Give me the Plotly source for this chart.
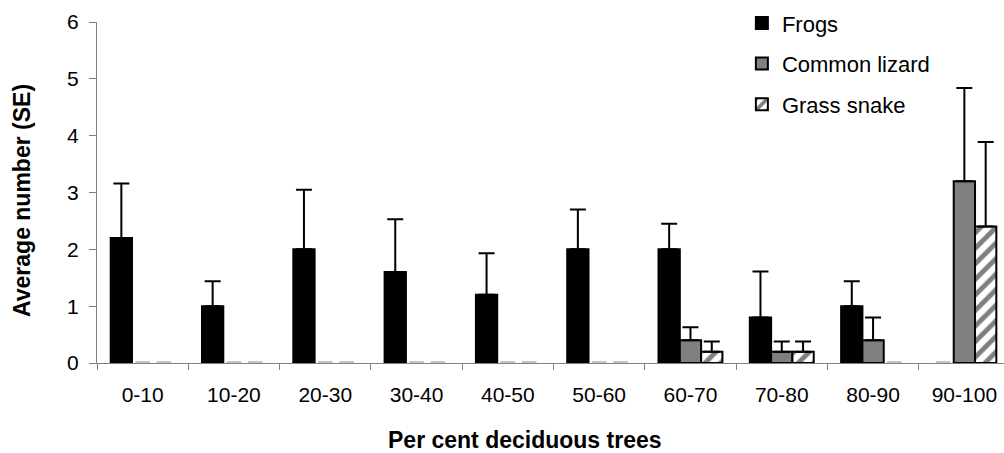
import plotly.graph_objects as go

# Deciduous-tree cover classes (%)
categories = ["0-10", "10-20", "20-30", "30-40", "40-50",
              "50-60", "60-70", "70-80", "80-90", "90-100"]

# Mean counts per class
frogs = [2.2, 1.0, 2.0, 1.6, 1.2, 2.0, 2.0, 0.8, 1.0, 0.0]
lizard = [0.0, 0.0, 0.0, 0.0, 0.0, 0.0, 0.4, 0.2, 0.4, 3.2]
snake = [0.0, 0.0, 0.0, 0.0, 0.0, 0.0, 0.2, 0.2, 0.0, 2.4]

# Standard errors
frogs_se = [0.96, 0.44, 1.05, 0.93, 0.73, 0.70, 0.45, 0.81, 0.44, 0.0]
lizard_se = [0.0, 0.0, 0.0, 0.0, 0.0, 0.0, 0.23, 0.18, 0.40, 1.64]
snake_se = [0.0, 0.0, 0.0, 0.0, 0.0, 0.0, 0.18, 0.18, 0.0, 1.49]

FONT = "Liberation Sans, Arial, sans-serif"
ZERO_DASH = 0.025  # visible height for classes with a mean of zero

# plot area in pixels, used to place the free-standing titles
L, R, T, B = 97, 0, 22, 90
W, H = 1004, 453
PW, PH = W - L - R, H - T - B

series = [
    ("Frogs", frogs, frogs_se, dict(color="black")),
    ("Common lizard", lizard, lizard_se, dict(color="#808080")),
    ("Grass snake", snake, snake_se,
     dict(color="white",
          pattern=dict(shape="/", fgcolor="black", bgcolor="white",
                       size=11, solidity=0.45))),
]

fig = go.Figure()
for i, (name, vals, se, marker) in enumerate(series):
    group = f"g{i}"
    # zero means are drawn as a faint dash on the baseline
    fig.add_trace(go.Bar(
        x=categories,
        y=[ZERO_DASH if v == 0 else None for v in vals],
        offsetgroup=group,
        width=0.16,
        marker=dict(color="#c4c4c4", line=dict(width=0)),
        showlegend=False,
        hoverinfo="skip",
    ))
    fig.add_trace(go.Bar(
        x=categories,
        y=[v if v != 0 else None for v in vals],
        name=name,
        offsetgroup=group,
        legendgroup=group,
        marker=dict(**marker, line=dict(color="black", width=2)),
        error_y=dict(type="data", array=se, arrayminus=[0] * len(se),
                     symmetric=False, color="black", thickness=2, width=8),
    ))

fig.update_layout(
    width=W,
    height=H,
    margin=dict(l=L, r=R, t=T, b=B),
    paper_bgcolor="white",
    plot_bgcolor="white",
    barmode="group",
    bargap=0.3,
    bargroupgap=0,
    font=dict(family=FONT, size=21, color="black"),
    showlegend=True,
    legend=dict(
        x=0.711, y=1.058, xanchor="left", yanchor="top",
        bgcolor="rgba(0,0,0,0)",
        font=dict(family=FONT, size=22, color="black"),
        traceorder="grouped",
        tracegroupgap=9,
        itemwidth=30,
    ),
    xaxis=dict(
        type="category",
        range=[-0.5, 9.434],
        showline=True, linecolor="#808080", linewidth=1,
        ticks="outside", tickson="boundaries", ticklen=6,
        tickcolor="#808080", tickwidth=1,
        ticklabelstandoff=13,
        showgrid=False, zeroline=False,
        tickfont=dict(family=FONT, size=21, color="black"),
    ),
    yaxis=dict(
        range=[0, 6],
        tickvals=[0, 1, 2, 3, 4, 5, 6],
        showline=True, linecolor="#808080", linewidth=1,
        ticks="outside", ticklen=7, tickcolor="#808080", tickwidth=1,
        ticklabelstandoff=6,
        showgrid=False, zeroline=False,
        tickfont=dict(family=FONT, size=21, color="black"),
    ),
    annotations=[
        dict(
            text="<b>Per cent deciduous trees</b>",
            xref="paper", yref="paper",
            x=(525 - L) / PW, y=-(440 - T - PH) / PH,
            xanchor="center", yanchor="middle",
            showarrow=False,
            font=dict(family=FONT, size=23, color="black"),
        ),
        dict(
            text="<b>Average number (SE)</b>",
            xref="paper", yref="paper",
            x=-(L - 22) / PW, y=(T + PH - 201) / PH,
            xanchor="center", yanchor="middle",
            textangle=-90,
            showarrow=False,
            font=dict(family=FONT, size=23, color="black"),
        ),
    ],
)

fig.write_html("out.html")
